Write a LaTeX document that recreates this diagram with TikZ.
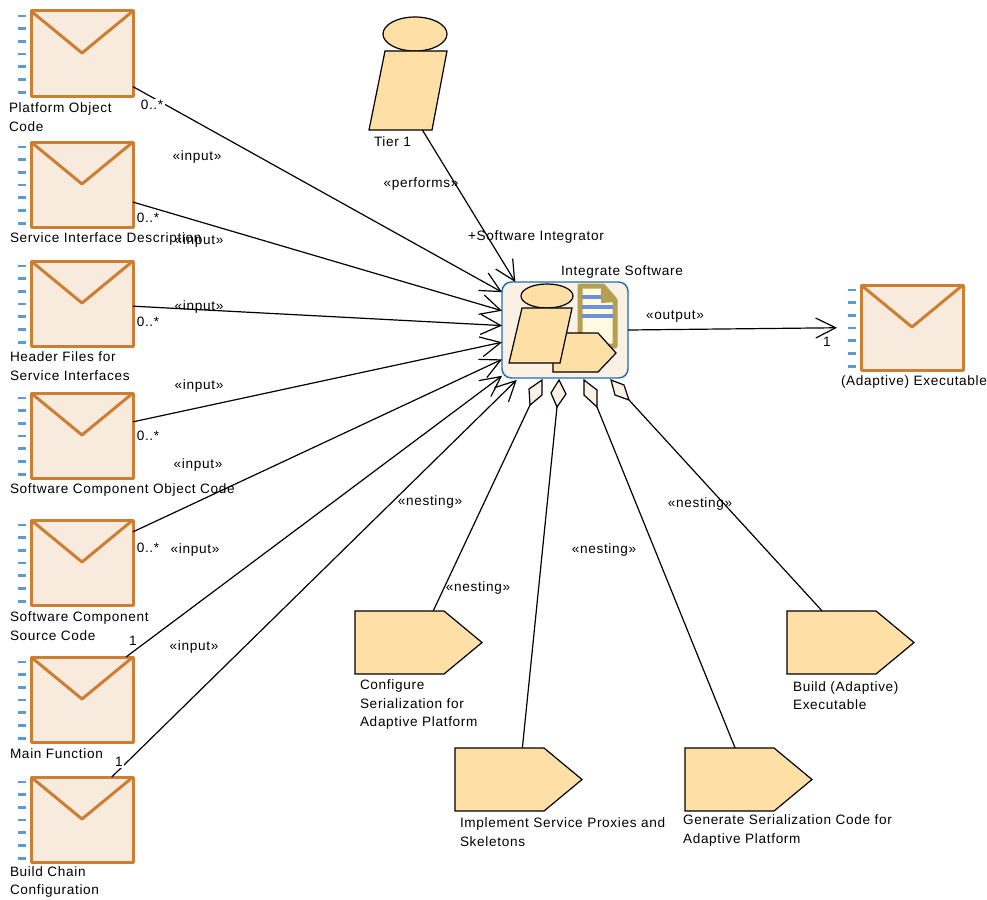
\documentclass[tikz,border=0pt]{standalone}
\usepackage{fontspec}
\setmainfont[LetterSpace=5]{Liberation Sans}
\usetikzlibrary{arrows.meta}
\definecolor{envline}{HTML}{CC7F33}
\definecolor{envfill}{HTML}{F8EADD}
\definecolor{tick}{HTML}{5B9BD5}
\definecolor{taskfill}{HTML}{FEDFA5}
\definecolor{actfill}{HTML}{FAF0E4}
\definecolor{actline}{HTML}{1F6FB5}
\definecolor{docline}{HTML}{B5A050}
\definecolor{docfill}{HTML}{FFFBE0}
\definecolor{docblue}{HTML}{6F8FD8}
\tikzset{
  px/.style={x=0.75pt,y=-0.75pt},
  envbox/.style={draw=envline,fill=envfill,line width=2.25pt,line join=round,minimum width=76.5pt,minimum height=63.75pt,inner sep=0pt,outer sep=0pt},
  envv/.style={draw=envline,line width=2.25pt,line join=round},
  envtick/.style={draw=tick,line width=2pt},
  taskshape/.style={draw=black,fill=taskfill,line width=0.9pt,line join=miter},
  hidden/.style={inner sep=0pt,outer sep=0pt},
  taskbox/.style={hidden,minimum width=95.25pt,minimum height=47.25pt},
  conn/.style={draw=black,line width=0.9pt},
  arr/.style={conn,-{Straight Barb[length=15pt,width=15pt,line width=0.9pt]}},
  lab/.style={font=\fontsize{10.2}{13.9}\selectfont,inner sep=0pt,outer sep=0pt,align=left,anchor=west,text=black},
  clab/.style={font=\fontsize{10.2}{13.9}\selectfont,inner sep=0pt,outer sep=0pt,anchor=center,text=black},
  card/.style={clab,fill=white,inner sep=1.2pt},
  dia/.style={draw=black,fill=actfill,line width=0.9pt,line join=miter}
}
\newcommand{\envelope}[3]{%
  \node[envbox] (#1) at (#2+51,#3+42.5) {};
  \draw[envv] (#2,#3) -- (#2+51,#3+42) -- (#2+102,#3);
  \foreach \k in {0,...,6} \draw[envtick] (#2-13,#3+5+12.7*\k) -- (#2-5,#3+5+12.7*\k);
}
\newcommand{\taskpent}[3]{%
  \draw[taskshape] (#2,#3) -- (#2+89,#3) -- (#2+127,#3+31.5) -- (#2+89,#3+63) -- (#2,#3+63) -- cycle;
  \node[taskbox] (#1) at (#2+63.5,#3+31.5) {};
}
\begin{document}
\begin{tikzpicture}[px]
\useasboundingbox[fill=white] (0,0) rectangle (987,899);

% envelopes
\envelope{e1}{31}{11}
\envelope{e2}{31}{142}
\envelope{e3}{31}{261}
\envelope{e4}{31}{393}
\envelope{e5}{31}{520}
\envelope{e6}{31}{657}
\envelope{e7}{31}{777}
\envelope{e8}{861}{285}

% tier 1 figure
\draw[taskshape] (415,34) ellipse [x radius=32,y radius=17];
\draw[taskshape] (385,51) -- (447,51) -- (432,130) -- (369,130) -- cycle;
\node[hidden,minimum width=58.5pt,minimum height=59.25pt] (tier) at (408,90.5) {};

% tasks
\taskpent{t1}{355}{611}
\taskpent{t2}{455}{748}
\taskpent{t3}{685}{748}
\taskpent{t4}{787}{611}

% activity
\node[draw=actline,fill=actfill,line width=1.1pt,rounded corners=7pt,minimum width=94.5pt,minimum height=72pt,inner sep=0pt,outer sep=0pt] (act) at (565,330) {};
\draw[draw=docline,fill=docfill,line width=3.75pt,line join=round] (580,286) -- (603,286) -- (615,300) -- (615,346) -- (580,346) -- cycle;
\fill[docline] (601,284) -- (618,302) -- (601,303) -- cycle;
\draw[docblue,line width=2.4pt] (582,297) -- (601,297);
\draw[docblue,line width=2.4pt] (582,307) -- (613,307);
\draw[docblue,line width=2.4pt] (582,316) -- (613,316);
\draw[taskshape] (553,333) -- (598,333) -- (616,353) -- (598,372) -- (553,372) -- cycle;
\draw[taskshape] (547,296) ellipse [x radius=26,y radius=12];
\draw[taskshape] (522,308) -- (572,308) -- (560,363) -- (509,363) -- cycle;

% nesting diamonds
\draw[dia] (542,380) -- (542,395) -- (530,405) coordinate (d1) -- (529,389) -- cycle;
\draw[dia] (559,380) -- (566,394) -- (557,407) coordinate (d2) -- (551,393) -- cycle;
\draw[dia] (584,380) -- (597,390) -- (597,407) coordinate (d3) -- (584,395) -- cycle;
\draw[dia] (611,380) -- (624,385) -- (629,400) coordinate (d4) -- (615,395) -- cycle;

% connectors
\draw[arr] (e1.-33.7) -- (act.149.6);
\draw[arr] (e2.-19.4) -- (act.163.2);
\draw[arr] (e3.-3.4) -- (act.176.4);
\draw[arr] (e4.15.4) -- (act.191.7);
\draw[arr] (e5.31.3) -- (act.205.5);
\draw[arr] (e6.44) -- (act.216.7);
\draw[arr,shorten >=2pt] (e7.55.7) -- (act.226.7);
\draw[arr] (tier.-70.5) -- (act.136.7);
\draw[arr,shorten >=18pt] (act.east) -- (e8.west);
\draw[conn] (d1) -- (t1.65.3);
\draw[conn] (d2) -- (t2.83.7);
\draw[conn] (d3) -- (t3.113.2);
\draw[conn] (d4) -- (t4.132.1);

% element names
\node[lab] (n1) at (9,117) {Platform Object\\Code};
\node[lab] (n2) at (10,238.5) {Service Interface Description};
\node[lab] (n3) at (10,366) {Header Files for\\Service Interfaces};
\node[lab] (n4) at (10,489.5) {Software Component Object Code};
\node[lab] (n5) at (10,626) {Software Component\\Source Code};
\node[lab] (n6) at (10,753.5) {Main Function};
\node[lab] (n7) at (10,882) {Build Chain\\Configuration};
\node[lab] (n8) at (841,381.5) {(Adaptive) Executable};
\node[lab] (n9) at (374,141.5) {Tier 1};
\node[lab] (n10) at (360,704.5) {Configure\\Serialization for\\Adaptive Platform};
\node[lab] (n11) at (460,832) {Implement Service Proxies and\\Skeletons};
\node[lab] (n12) at (683,830.5) {Generate Serialization Code for\\Adaptive Platform};
\node[lab] (n13) at (793,695.5) {Build (Adaptive)\\Executable};
\node[clab] (n14) at (622,271.5) {Integrate Software};

% connector labels
\node[clab] (i1) at (197,156.5) {«input»};
\node[clab] (i2) at (199,240.5) {«input»};
\node[clab] (i3) at (199,306.5) {«input»};
\node[clab] (i4) at (199,385.5) {«input»};
\node[clab] (i5) at (198,464.5) {«input»};
\node[clab] (i6) at (195,549.5) {«input»};
\node[clab] (i7) at (194,646.5) {«input»};
\node[clab] (p1) at (421,183.5) {«performs»};
\node[clab] (p2) at (536,236.5) {+Software Integrator};
\node[clab] (o1) at (675,316.5) {«output»};
\node[clab] (s1) at (430,501.5) {«nesting»};
\node[clab] (s2) at (478,587.5) {«nesting»};
\node[clab] (s3) at (604,549.5) {«nesting»};
\node[clab] (s4) at (700,503.5) {«nesting»};
\node[card] (c1) at (152,105) {0..*};
\node[card] (c2) at (148,218) {0..*};
\node[card] (c3) at (148,322) {0..*};
\node[card] (c4) at (148,436) {0..*};
\node[card] (c5) at (148,548) {0..*};
\node[card] (c6) at (133,641) {1};
\node[card] (c7) at (119,762) {1};
\node[card] (c8) at (827,342) {1};
\end{tikzpicture}
\end{document}
